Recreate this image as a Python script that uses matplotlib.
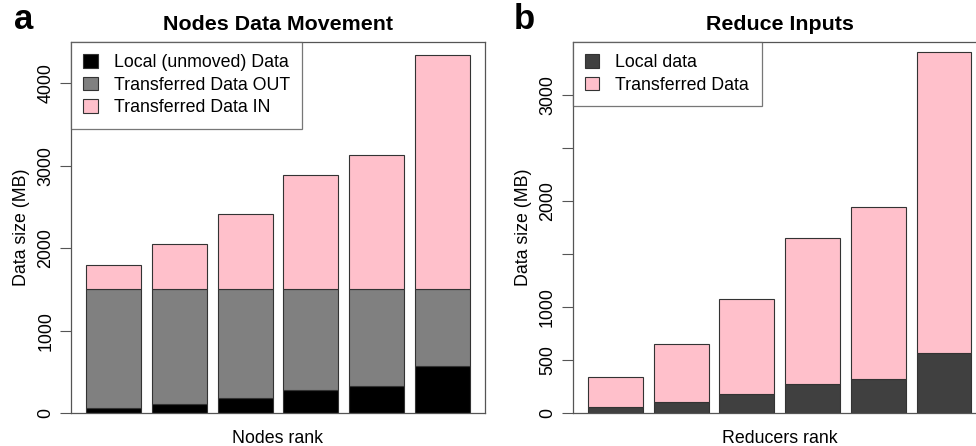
import numpy as np
import matplotlib

matplotlib.use("Agg")
import matplotlib.pyplot as plt

plt.rcParams["font.family"] = ["Liberation Sans", "DejaVu Sans"]
plt.rcParams["font.size"] = 12.8

# per-rank volumes in MB
local_mb = [62, 110, 182, 278, 327, 570]
out_mb = [1448, 1400, 1328, 1232, 1183, 940]
in_mb = [284, 547, 902, 1375, 1621, 2837]
reduce_local_mb = [62, 110, 182, 278, 327, 570]
reduce_transferred_mb = [281, 547, 900, 1370, 1620, 2836]

nodes_legend = ["Local (unmoved) Data", "Transferred Data OUT", "Transferred Data IN"]
reduce_legend = ["Local data", "Transferred Data"]

nodes_yticks = [0, 1000, 2000, 3000, 4000]
nodes_yticklabels = ["0", "1000", "2000", "3000", "4000"]
reduce_yticks = [0, 500, 1000, 1500, 2000, 2500, 3000]
reduce_yticklabels = ["0", "500", "1000", "", "2000", "", "3000"]

EDGE = "#333333"
FRAME = "#555555"


def style_axes(ax, ymax, yticks, yticklabels):
    # R barplot layout: width 1, space 0.2, 4% padding on x
    ax.set_xlim(-0.08, 7.48)
    ax.set_ylim(0, ymax)
    ax.set_xticks([])
    ax.set_yticks(yticks)
    ax.set_yticklabels(yticklabels, rotation=90, va="center")
    ax.tick_params(axis="y", length=8, width=0.8, color=FRAME, pad=4)
    for sp in ax.spines.values():
        sp.set_color(FRAME)
        sp.set_linewidth(0.9)


def legend(ax, labels):
    leg = ax.legend(
        labels,
        loc="upper left",
        borderaxespad=0,
        fancybox=False,
        frameon=True,
        handlelength=0.8,
        handleheight=0.8,
        handletextpad=0.9,
        borderpad=0.7,
        labelspacing=0.3,
    )
    leg.get_frame().set_edgecolor(FRAME)
    leg.get_frame().set_linewidth(0.9)
    return leg


fig = plt.figure(figsize=(9.76, 4.46), dpi=100)
W, H = 976.0, 446.0
ax1 = fig.add_axes([71 / W, (H - 413.3) / H, 414 / W, 371.3 / H])
ax2 = fig.add_axes([572.7 / W, (H - 413.3) / H, 414 / W, 371.3 / H])

x = np.arange(6) * 1.2 + 0.7
kw = dict(width=1.0, edgecolor=EDGE, linewidth=0.8)

loc = np.array(local_mb)
out = np.array(out_mb)
ax1.bar(x, loc, color="black", **kw)
ax1.bar(x, out, bottom=loc, color="#808080", **kw)
ax1.bar(x, in_mb, bottom=loc + out, color="#FFC0CB", **kw)
style_axes(ax1, 4500, nodes_yticks, nodes_yticklabels)
ax1.set_title("Nodes Data Movement", fontweight="bold", pad=9)
ax1.set_xlabel("Nodes rank", labelpad=12)
ax1.set_ylabel("Data size (MB)", labelpad=5)
legend(ax1, nodes_legend)

ax2.bar(x, reduce_local_mb, color="#404040", **kw)
ax2.bar(x, reduce_transferred_mb, bottom=reduce_local_mb, color="#FFC0CB", **kw)
style_axes(ax2, 3500, reduce_yticks, reduce_yticklabels)
ax2.set_title("Reduce Inputs", fontweight="bold", pad=9)
ax2.set_xlabel("Reducers rank", labelpad=12)
ax2.set_ylabel("Data size (MB)", labelpad=5)
legend(ax2, reduce_legend)

fig.text(14 / W, 1 - 29.3 / H, "a", fontsize=25, fontweight="bold", va="baseline")
fig.text(514 / W, 1 - 29.3 / H, "b", fontsize=25, fontweight="bold", va="baseline")

fig.savefig("out.png", dpi=100)
